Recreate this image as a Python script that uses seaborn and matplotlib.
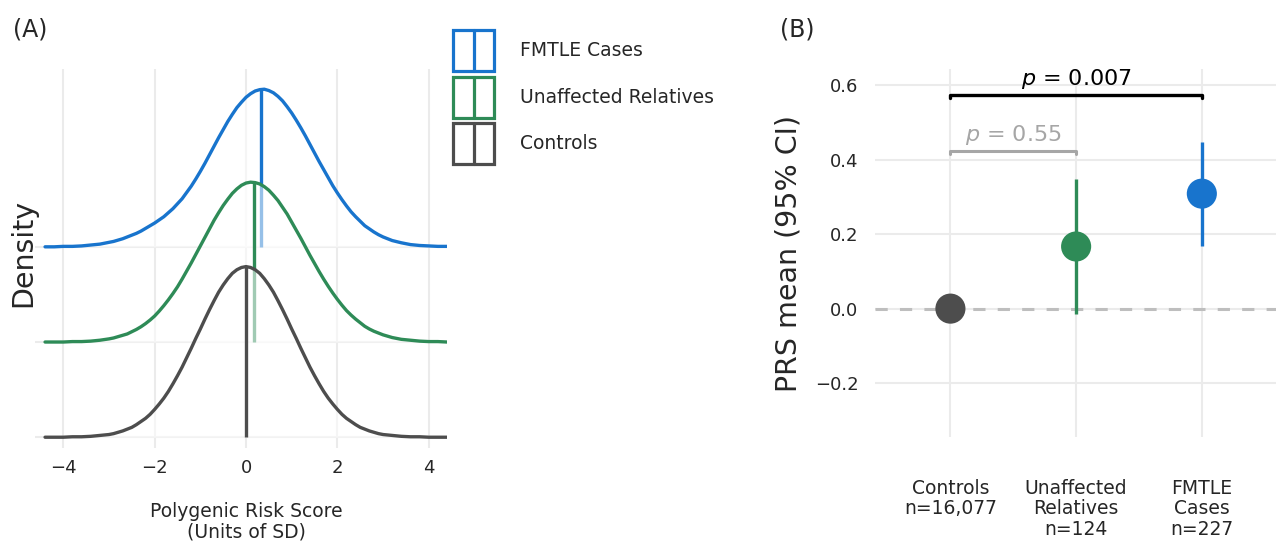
import numpy as np
import pandas as pd
import seaborn as sns
import matplotlib.pyplot as plt
from matplotlib.lines import Line2D
from matplotlib.patches import Rectangle
from matplotlib.legend_handler import HandlerBase

# ---- data ----
groups = ['FMTLE Cases', 'Unaffected Relatives', 'Controls']
colors = {'FMTLE Cases': '#1874CD', 'Unaffected Relatives': '#2E8B57', 'Controls': '#4D4D4D'}

# panel A: density curves (x in units of SD)
prs_x = [-4.4, -4.2, -4.0, -3.8, -3.6, -3.4, -3.2,
         -3.0, -2.9, -2.8, -2.7, -2.6, -2.5, -2.4, -2.3, -2.2, -2.1,
         -2.0, -1.9, -1.8, -1.7, -1.6, -1.5, -1.4, -1.3, -1.2, -1.1,
         -1.0, -0.9, -0.8, -0.7, -0.6, -0.5, -0.4, -0.3, -0.2, -0.1,
         0.0,
         0.1, 0.2, 0.3, 0.4, 0.5, 0.6, 0.7, 0.8, 0.9, 1.0,
         1.1, 1.2, 1.3, 1.4, 1.5, 1.6, 1.7, 1.8, 1.9, 2.0,
         2.1, 2.2, 2.3, 2.4, 2.5, 2.6, 2.7, 2.8, 2.9, 3.0,
         3.2, 3.4, 3.6, 3.8, 4.0, 4.2, 4.4]
dens_fmtle = [0.000, 0.000, 0.001, 0.001, 0.002, 0.004, 0.006,
              0.010, 0.012, 0.015, 0.018, 0.022, 0.026, 0.030, 0.035, 0.041, 0.047,
              0.053, 0.060, 0.067, 0.076, 0.085, 0.096, 0.107, 0.121, 0.135, 0.151,
              0.168, 0.186, 0.205, 0.224, 0.243, 0.261, 0.279, 0.295, 0.310, 0.322,
              0.333,
              0.341, 0.347, 0.350, 0.351, 0.348, 0.343, 0.335, 0.325, 0.312, 0.298,
              0.282, 0.265, 0.247, 0.228, 0.209, 0.190, 0.172, 0.154, 0.136, 0.120,
              0.105, 0.091, 0.078, 0.067, 0.057, 0.047, 0.040, 0.033, 0.027, 0.022,
              0.014, 0.009, 0.005, 0.003, 0.002, 0.001, 0.001]
dens_relatives = [0.000, 0.000, 0.000, 0.001, 0.001, 0.002, 0.004,
                  0.007, 0.009, 0.012, 0.015, 0.018, 0.023, 0.028, 0.034, 0.041, 0.049,
                  0.058, 0.069, 0.081, 0.094, 0.108, 0.123, 0.140, 0.158, 0.176, 0.195,
                  0.214, 0.233, 0.252, 0.271, 0.288, 0.304, 0.318, 0.331, 0.341, 0.349,
                  0.354,
                  0.356, 0.355, 0.352, 0.346, 0.338, 0.327, 0.315, 0.300, 0.285, 0.267,
                  0.249, 0.231, 0.212, 0.193, 0.175, 0.157, 0.140, 0.124, 0.109, 0.095,
                  0.082, 0.070, 0.060, 0.051, 0.043, 0.035, 0.029, 0.024, 0.020, 0.016,
                  0.010, 0.006, 0.004, 0.002, 0.001, 0.001, 0.000]
dens_controls = [0.000, 0.000, 0.000, 0.001, 0.001, 0.002, 0.004,
                 0.006, 0.008, 0.011, 0.014, 0.018, 0.022, 0.028, 0.035, 0.042, 0.051,
                 0.062, 0.074, 0.087, 0.102, 0.119, 0.137, 0.156, 0.177, 0.198, 0.220,
                 0.241, 0.263, 0.284, 0.304, 0.323, 0.339, 0.353, 0.365, 0.373, 0.378,
                 0.380,
                 0.378, 0.373, 0.365, 0.353, 0.339, 0.323, 0.304, 0.284, 0.263, 0.241,
                 0.220, 0.198, 0.177, 0.156, 0.137, 0.119, 0.102, 0.087, 0.074, 0.062,
                 0.051, 0.042, 0.035, 0.028, 0.022, 0.018, 0.014, 0.011, 0.008, 0.006,
                 0.004, 0.002, 0.001, 0.001, 0.000, 0.000, 0.000]
group_means = [0.32, 0.175, 0.0]
ridge_offsets = [0.424, 0.212, 0.0]

# panel B: PRS mean with 95% CI
b_groups = ['Controls', 'Unaffected Relatives', 'FMTLE Cases']
b_labels = ['Controls\nn=16,077', 'Unaffected\nRelatives\nn=124', 'FMTLE\nCases\nn=227']
prs_mean = [0.0, 0.167, 0.309]
ci_low = [-0.012, -0.014, 0.169]
ci_high = [0.012, 0.348, 0.449]

W, H = 1276, 541


def px_box(l, t, r, b):
    return [l / W, 1 - b / H, (r - l) / W, (b - t) / H]


class BoxLineHandler(HandlerBase):
    # legend key: outlined box with a vertical line in the middle
    def create_artists(self, legend, orig_handle, xdescent, ydescent, width, height,
                       fontsize, trans):
        c = orig_handle.get_color()
        rect = Rectangle((-xdescent, -ydescent), width, height, facecolor='white',
                         edgecolor=c, lw=2.3, transform=trans)
        mid = -xdescent + width / 2
        line = Line2D([mid, mid], [-ydescent, -ydescent + height], color=c, lw=2.3,
                      transform=trans)
        return [rect, line]


sns.set_theme(style='whitegrid', rc={'grid.color': '#EBEBEB', 'grid.linewidth': 1.5,
                                     'axes.edgecolor': 'white'})
plt.rcParams['font.family'] = ['DejaVu Sans']

fig = plt.figure(figsize=(W / 100, H / 100), dpi=100)
axA = fig.add_axes(px_box(35, 69, 447, 448))
axB = fig.add_axes(px_box(875, 69, 1276, 437))

# ---------- panel A: ridgeline densities ----------
curves = {'FMTLE Cases': dens_fmtle, 'Unaffected Relatives': dens_relatives,
          'Controls': dens_controls}
for i, grp in enumerate(groups):
    df = pd.DataFrame({'prs': prs_x, 'density': curves[grp]})
    base = ridge_offsets[i]
    df['ridge'] = df['density'] + base
    z = 2 + 2 * i
    axA.fill_between(df['prs'], base, df['ridge'], color='white', alpha=0.55, lw=0, zorder=z)
    sns.lineplot(data=df, x='prs', y='ridge', color=colors[grp], linewidth=2.4, ax=axA,
                 zorder=z + 1)
    top = np.interp(group_means[i], df['prs'], df['ridge'])
    axA.vlines(group_means[i], base, top, color=colors[grp], lw=2.4, zorder=z + 1)

axA.set_xlim(-4.62, 4.40)
axA.set_ylim(-0.024, 0.82)
axA.set_xticks([-4, -2, 0, 2, 4])
axA.set_yticks(ridge_offsets)
axA.set_yticklabels([])
axA.tick_params(axis='both', length=0, labelsize=13, pad=8)
axA.set_xlabel('Polygenic Risk Score\n(Units of SD)', fontsize=13.5, linespacing=1.1)
axA.xaxis.set_label_coords(0.513, -0.142)
axA.set_ylabel('Density', fontsize=20.5)
axA.yaxis.set_label_coords(0.006, 0.514)
for s in axA.spines.values():
    s.set_visible(False)

handles = [Line2D([], [], color=colors[g]) for g in groups]
fig.legend(handles, groups, handler_map={Line2D: BoxLineHandler()},
           loc='upper left', bbox_to_anchor=(453 / W, 1 - 30 / H), frameon=False,
           borderpad=0, borderaxespad=0, fontsize=13.5, handlelength=2.19,
           handleheight=2.987, labelspacing=0.3, handletextpad=1.4)

# ---------- panel B: means with CI ----------
xpos = [0, 1, 2]
axB.axhline(0, color='#BEBEBE', lw=2.2, ls=(0, (4, 4)), zorder=1)
axB.vlines(xpos, ci_low, ci_high, colors=[colors[g] for g in b_groups], lw=2.4, zorder=3)
sns.scatterplot(x=xpos, y=prs_mean, hue=b_groups, palette=colors, s=470, edgecolor='none',
                legend=False, ax=axB, zorder=4)

axB.plot([0, 0, 2, 2], [0.567, 0.575, 0.575, 0.567], color='black', lw=2.4)
axB.text(1, 0.602, r'$p$ = 0.007', ha='center', va='baseline', fontsize=16, color='black')
axB.plot([0, 0, 1, 1], [0.416, 0.424, 0.424, 0.416], color='#A6A6A6', lw=2.2)
axB.text(0.5, 0.45, r'$p$ = 0.55', ha='center', va='baseline', fontsize=16, color='#A6A6A6')

axB.set_xlim(-0.6, 2.59)
axB.set_ylim(-0.345, 0.644)
axB.set_yticks([-0.2, 0.0, 0.2, 0.4, 0.6])
axB.set_xticks(xpos)
axB.set_xticklabels(b_labels, linespacing=1.1)
axB.tick_params(axis='x', length=0, labelsize=13.5, pad=30)
axB.tick_params(axis='y', length=0, labelsize=13, pad=12)
axB.set_ylabel('PRS mean (95% CI)', fontsize=20.5)
axB.yaxis.set_label_coords(-0.18, 0.5)
for s in axB.spines.values():
    s.set_visible(False)

fig.text(13 / W, 1 - 17 / H, '(A)', fontsize=17, va='top', ha='left')
fig.text(780 / W, 1 - 17 / H, '(B)', fontsize=17, va='top', ha='left')

fig.savefig('out.png', dpi=100)
